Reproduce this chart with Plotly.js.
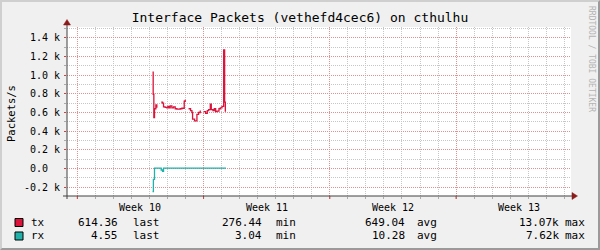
<!DOCTYPE html>
<html><head><meta charset="utf-8">
<script src="https://cdn.plot.ly/plotly-3.0.1.min.js"></script>
<style>
html,body{margin:0;padding:0;background:#F0F0F0}
#wrap{position:relative;width:600px;height:250px}
#chart{width:600px;height:250px}
#frame{position:absolute;left:0;top:0;width:600px;height:250px;box-sizing:border-box;border-top:2px solid #CFCFCF;border-left:2px solid #CFCFCF;border-right:2px solid #9A9A9A;border-bottom:2px solid #9A9A9A;pointer-events:none}
</style>
</head><body><div id="wrap"><div id="chart"></div><div id="frame"></div></div>
<script>
const chartTitle = 'Interface Packets (vethefd4cec6) on cthulhu';
const yLabel = 'Packets/s';
const credit = 'RRDTOOL / TOBI OETIKER';

// time in days since graph start
const txTime = [4.741,4.778,4.815,4.852,4.926,4.981,5.056,5.222,5.296,5.352,5.444,5.537,5.593,5.667,5.722,5.815,5.907,6.000,6.093,6.185,6.278,6.370,6.426,6.500,6.556,6.630,6.741,6.852,6.926,6.963,7.074,7.204,7.296,7.389,7.500,7.593,7.685,7.778,7.852,7.944,8.000,8.093,8.167,8.241,8.315,8.426,8.500,8.593,8.685,8.741,8.778,8.815];
const txValues = [1030,795,545,640,680,650,null,710,700,660,655,650,665,650,670,650,660,640,635,635,640,645,645,720,735,null,640,620,600,530,510,580,600,620,null,610,590,620,630,690,630,620,640,610,615,640,650,665,1270,710,614,614];
const rxTime = [4.741,4.790,4.852,5.222,5.296,5.352,8.815];
const rxValues = [-245,-115,5,-15,-30,5,5];

const weekStarts = [0.572, 7.572, 14.572, 21.572];
const weekLabels = ['Week 10','Week 11','Week 12','Week 13'];
const xSpan = [0, 27.944];
const ySpan = [-293, 1514];
const yTickVals = [-200,0,200,400,600,800,1000,1200,1400];
const yTickText = ['-0.2 k','0.0\u00a0\u00a0','0.2 k','0.4 k','0.6 k','0.8 k','1.0 k','1.2 k','1.4 k'];

const seriesNames = ['tx','rx'];
const seriesColors = ['#DC143C','#20B2AA'];
const statLast = [614.36, 4.55];
const statMin = [276.44, 3.04];
const statAvg = [649.04, 10.28];
const statMax = [13070, 7620];
const statWords = ['last','min','avg','max'];

const MONO = 'DejaVu Sans Mono, monospace';
const L = 67, R = 571, T = 27, B = 196, W = 600, H = 250;
const pw = R - L, ph = B - T;
const px = p => (p - L) / pw;
const py = p => (B - p) / ph;
const fmt = v => v >= 1000 ? (v/1000).toFixed(2) + 'k' : v.toFixed(2);

const traces = [
  {x: txTime, y: txValues, type:'scatter', mode:'lines', line:{shape:'hv', width:1.3, color:seriesColors[0]}, connectgaps:false, name:seriesNames[0], hoverinfo:'skip'},
  {x: rxTime, y: rxValues, type:'scatter', mode:'lines', line:{shape:'hv', width:1.3, color:seriesColors[1]}, connectgaps:false, name:seriesNames[1], hoverinfo:'skip'}
];

const shapes = [];
const annotations = [];
// week boundary ticks below the axis
weekStarts.forEach(w => {
  shapes.push({type:'line', xref:'x', yref:'paper', x0:w, x1:w, y0:0, y1:-3/ph, line:{color:'#D04040', width:1}, layer:'above'});
});
// axis lines
shapes.push({type:'line', xref:'paper', yref:'paper', x0:px(63), x1:px(573), y0:0, y1:0, line:{color:'#404040', width:1}, layer:'above'});
shapes.push({type:'line', xref:'paper', yref:'paper', x0:0, x1:0, y0:py(199), y1:py(24), line:{color:'#404040', width:1}, layer:'above'});
// arrows
shapes.push({type:'path', xref:'paper', yref:'paper', path:`M ${px(572)} ${py(192.5)} L ${px(577.5)} ${py(196)} L ${px(572)} ${py(199.5)} Z`, fillcolor:'#8B1A1A', line:{color:'#8B1A1A', width:0.5}, layer:'above'});
shapes.push({type:'path', xref:'paper', yref:'paper', path:`M ${px(63.5)} ${py(25)} L ${px(67)} ${py(19.5)} L ${px(70.5)} ${py(25)} Z`, fillcolor:'#8B1A1A', line:{color:'#8B1A1A', width:0.5}, layer:'above'});

// week labels
weekStarts.forEach((w, i) => {
  annotations.push({xref:'x', yref:'paper', x:w + 3.5, y:py(207), text:weekLabels[i], showarrow:false, xanchor:'center', yanchor:'middle', font:{family:MONO, size:10, color:'#000'}, borderpad:0, borderwidth:0});
});
// y label
annotations.push({xref:'paper', yref:'paper', x:px(11), y:py(114), text:yLabel, textangle:-90, showarrow:false, xanchor:'center', yanchor:'middle', font:{family:MONO, size:10.5, color:'#000'}, borderpad:0, borderwidth:0});
// credit
annotations.push({xref:'paper', yref:'paper', x:px(591), y:py(59), text:credit, textangle:90, showarrow:false, xanchor:'center', yanchor:'middle', font:{family:MONO, size:8, color:'#B4B4B4'}, borderpad:0, borderwidth:0});

// legend
const rowY = [222.5, 236];
const numRight = [117.5, 261.5, 404.5, 559];
const wordLeft = [132.5, 275.5, 417, 564.5];
seriesNames.forEach((n, i) => {
  const yc = rowY[i];
  shapes.push({type:'rect', xref:'paper', yref:'paper', x0:px(15), x1:px(23), y0:py(yc-4), y1:py(yc+4), fillcolor:seriesColors[i], line:{color:'#000', width:1}, layer:'above'});
  annotations.push({xref:'paper', yref:'paper', x:px(30.5), y:py(yc), text:n, showarrow:false, xanchor:'left', yanchor:'middle', font:{family:MONO, size:11, color:'#000'}, borderpad:0, borderwidth:0});
  const vals = [statLast[i], statMin[i], statAvg[i], statMax[i]];
  vals.forEach((v, j) => {
    annotations.push({xref:'paper', yref:'paper', x:px(numRight[j]), y:py(yc), text:fmt(v), showarrow:false, xanchor:'right', yanchor:'middle', font:{family:MONO, size:11, color:'#000'}, borderpad:0, borderwidth:0});
    annotations.push({xref:'paper', yref:'paper', x:px(wordLeft[j]), y:py(yc), text:statWords[j], showarrow:false, xanchor:'left', yanchor:'middle', font:{family:MONO, size:11, color:'#000'}, borderpad:0, borderwidth:0});
  });
});

const gridRed = '#E29090', gridGray = '#C6C6C6';
const layout = {
  width: W, height: H,
  paper_bgcolor:'#F0F0F0', plot_bgcolor:'#FFFFFF',
  margin:{l:L, r:W-R, t:T, b:H-B, pad:0},
  showlegend:false,
  title:{text:chartTitle, font:{family:MONO, size:13, color:'#000'}, xref:'container', x:0.5, xanchor:'center', yref:'container', y:1-17.5/H, yanchor:'middle'},
  xaxis:{range:xSpan, tickmode:'array', tickvals:weekStarts, showticklabels:false,
    ticks:'', showgrid:true, gridcolor:gridRed, griddash:'1px,1px', gridwidth:1,
    zeroline:false, showline:false, fixedrange:true,
    minor:{tickmode:'linear', tick0:weekStarts[0], dtick:1, showgrid:true, gridcolor:gridGray, griddash:'1px,1px', gridwidth:1, ticks:'outside', ticklen:2, tickcolor:'#AAAAAA', tickwidth:1}},
  yaxis:{range:ySpan, tickmode:'array', tickvals:yTickVals, ticktext:yTickText,
    ticks:'outside', ticklen:2, tickcolor:'#D04040', tickwidth:1,
    tickfont:{family:MONO, size:10, color:'#000'}, ticklabelstandoff:2,
    showgrid:true, gridcolor:gridRed, griddash:'1px,1px', gridwidth:1,
    zeroline:false, showline:false, fixedrange:true,
    minor:{tickmode:'linear', tick0:0, dtick:100, showgrid:true, gridcolor:gridGray, griddash:'1px,1px', gridwidth:1, ticks:'outside', ticklen:2, tickcolor:'#AAAAAA', tickwidth:1}},
  shapes, annotations
};
Plotly.newPlot('chart', traces, layout, {staticPlot:true, displayModeBar:false});
</script>
</body></html>
